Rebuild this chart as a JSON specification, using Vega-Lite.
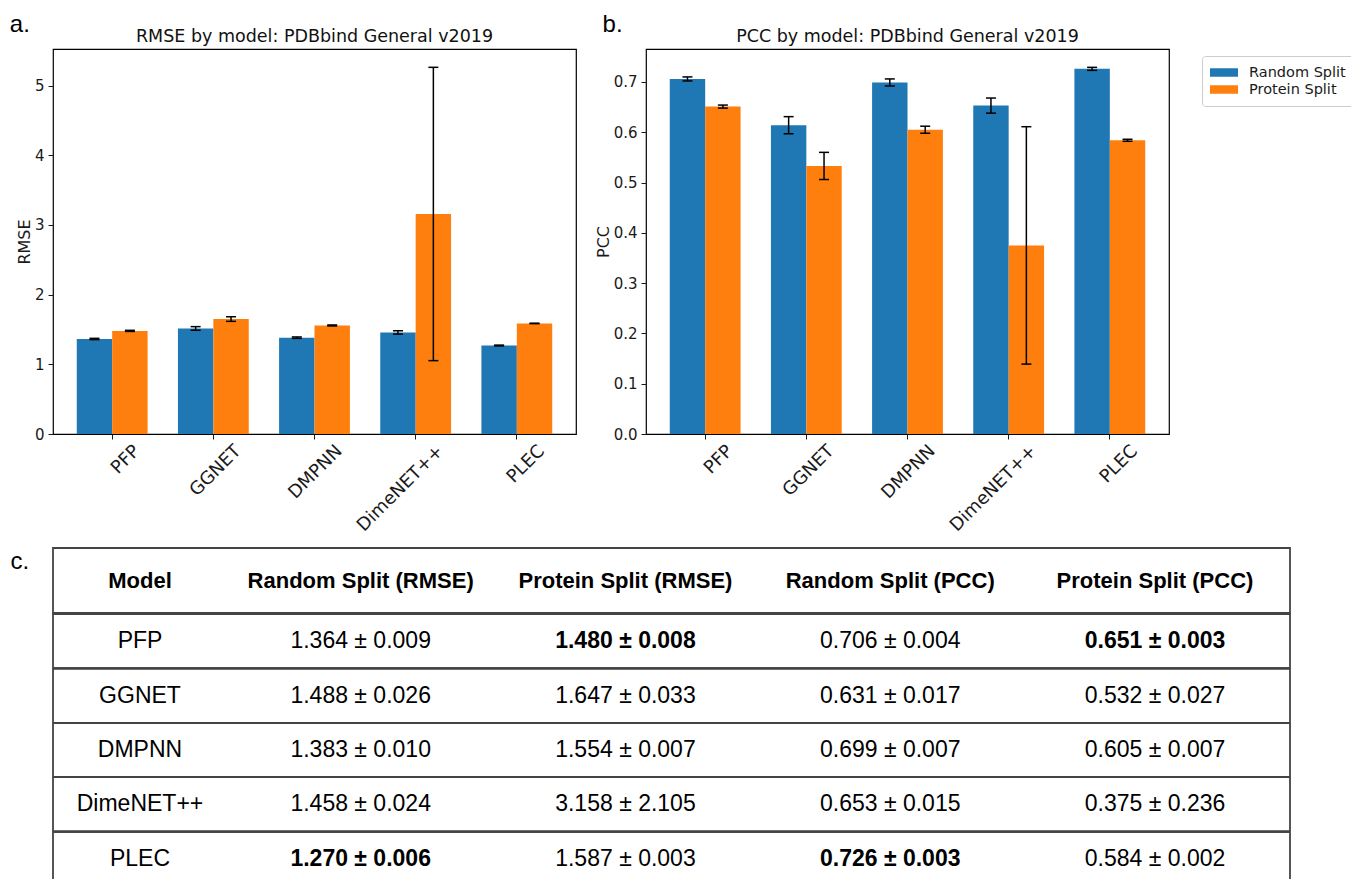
{
  "$schema": "https://vega.github.io/schema/vega-lite/v6.json",
  "background": "white",
  "padding": {"left": 9, "top": 12, "right": 0, "bottom": 0},
  "datasets": {
    "rmse": [
      {"model": "PFP", "split": "Random Split", "value": 1.364, "lo": 1.355, "hi": 1.373},
      {"model": "PFP", "split": "Protein Split", "value": 1.480, "lo": 1.472, "hi": 1.488},
      {"model": "GGNET", "split": "Random Split", "value": 1.515, "lo": 1.489, "hi": 1.541},
      {"model": "GGNET", "split": "Protein Split", "value": 1.650, "lo": 1.617, "hi": 1.683},
      {"model": "DMPNN", "split": "Random Split", "value": 1.383, "lo": 1.373, "hi": 1.393},
      {"model": "DMPNN", "split": "Protein Split", "value": 1.558, "lo": 1.551, "hi": 1.565},
      {"model": "DimeNET++", "split": "Random Split", "value": 1.458, "lo": 1.434, "hi": 1.482},
      {"model": "DimeNET++", "split": "Protein Split", "value": 3.158, "lo": 1.053, "hi": 5.263},
      {"model": "PLEC", "split": "Random Split", "value": 1.270, "lo": 1.264, "hi": 1.276},
      {"model": "PLEC", "split": "Protein Split", "value": 1.587, "lo": 1.584, "hi": 1.590}
    ],
    "pcc": [
      {"model": "PFP", "split": "Random Split", "value": 0.706, "lo": 0.702, "hi": 0.710},
      {"model": "PFP", "split": "Protein Split", "value": 0.651, "lo": 0.648, "hi": 0.654},
      {"model": "GGNET", "split": "Random Split", "value": 0.614, "lo": 0.597, "hi": 0.631},
      {"model": "GGNET", "split": "Protein Split", "value": 0.533, "lo": 0.506, "hi": 0.560},
      {"model": "DMPNN", "split": "Random Split", "value": 0.699, "lo": 0.692, "hi": 0.706},
      {"model": "DMPNN", "split": "Protein Split", "value": 0.605, "lo": 0.598, "hi": 0.612},
      {"model": "DimeNET++", "split": "Random Split", "value": 0.653, "lo": 0.638, "hi": 0.668},
      {"model": "DimeNET++", "split": "Protein Split", "value": 0.375, "lo": 0.139, "hi": 0.611},
      {"model": "PLEC", "split": "Random Split", "value": 0.726, "lo": 0.723, "hi": 0.729},
      {"model": "PLEC", "split": "Protein Split", "value": 0.584, "lo": 0.582, "hi": 0.586}
    ],
    "header": [
      {"col": "Model", "row": "h"},
      {"col": "Random Split (RMSE)", "row": "h"},
      {"col": "Protein Split (RMSE)", "row": "h"},
      {"col": "Random Split (PCC)", "row": "h"},
      {"col": "Protein Split (PCC)", "row": "h"}
    ],
    "cells": [
      {"model": "PFP", "col": "Model", "text": "PFP", "best": false},
      {"model": "PFP", "col": "Random Split (RMSE)", "text": "1.364 ± 0.009", "best": false},
      {"model": "PFP", "col": "Protein Split (RMSE)", "text": "1.480 ± 0.008", "best": true},
      {"model": "PFP", "col": "Random Split (PCC)", "text": "0.706 ± 0.004", "best": false},
      {"model": "PFP", "col": "Protein Split (PCC)", "text": "0.651 ± 0.003", "best": true},
      {"model": "GGNET", "col": "Model", "text": "GGNET", "best": false},
      {"model": "GGNET", "col": "Random Split (RMSE)", "text": "1.488 ± 0.026", "best": false},
      {"model": "GGNET", "col": "Protein Split (RMSE)", "text": "1.647 ± 0.033", "best": false},
      {"model": "GGNET", "col": "Random Split (PCC)", "text": "0.631 ± 0.017", "best": false},
      {"model": "GGNET", "col": "Protein Split (PCC)", "text": "0.532 ± 0.027", "best": false},
      {"model": "DMPNN", "col": "Model", "text": "DMPNN", "best": false},
      {"model": "DMPNN", "col": "Random Split (RMSE)", "text": "1.383 ± 0.010", "best": false},
      {"model": "DMPNN", "col": "Protein Split (RMSE)", "text": "1.554 ± 0.007", "best": false},
      {"model": "DMPNN", "col": "Random Split (PCC)", "text": "0.699 ± 0.007", "best": false},
      {"model": "DMPNN", "col": "Protein Split (PCC)", "text": "0.605 ± 0.007", "best": false},
      {"model": "DimeNET++", "col": "Model", "text": "DimeNET++", "best": false},
      {"model": "DimeNET++", "col": "Random Split (RMSE)", "text": "1.458  ± 0.024", "best": false},
      {"model": "DimeNET++", "col": "Protein Split (RMSE)", "text": "3.158 ± 2.105", "best": false},
      {"model": "DimeNET++", "col": "Random Split (PCC)", "text": "0.653 ± 0.015", "best": false},
      {"model": "DimeNET++", "col": "Protein Split (PCC)", "text": "0.375 ± 0.236", "best": false},
      {"model": "PLEC", "col": "Model", "text": "PLEC", "best": false},
      {"model": "PLEC", "col": "Random Split (RMSE)", "text": "1.270 ± 0.006", "best": true},
      {"model": "PLEC", "col": "Protein Split (RMSE)", "text": "1.587 ± 0.003", "best": false},
      {"model": "PLEC", "col": "Random Split (PCC)", "text": "0.726 ± 0.003", "best": true},
      {"model": "PLEC", "col": "Protein Split (PCC)", "text": "0.584 ± 0.002", "best": false}
    ]
  },
  "config": {
    "axis": {
      "labelFont": "DejaVu Sans", "titleFont": "DejaVu Sans",
      "labelColor": "#1a1a1a", "titleColor": "#1a1a1a",
      "tickColor": "#1a1a1a", "domain": false, "grid": false,
      "labelFontSize": 15, "titleFontSize": 16, "titleFontWeight": "normal",
      "tickSize": 5, "labelPadding": 4
    },
    "title": {"font": "DejaVu Sans", "fontWeight": "normal", "fontSize": 17.5, "color": "#111111"}
  },
  "resolve": {"scale": {"color": "independent"}, "legend": {"color": "independent"}},
  "spacing": 11,
  "vconcat": [
    {
      "spacing": 17,
      "resolve": {"scale": {"color": "independent"}, "legend": {"color": "independent"}},
      "hconcat": [
        {
          "title": {"text": "a.", "anchor": "start", "font": "Liberation Sans", "fontSize": 24, "fontWeight": "normal", "color": "black", "offset": -8, "dx": -6, "dy": 2},
          "vconcat": [
            {
              "width": 523, "height": 385,
              "title": {"text": "RMSE by model: PDBbind General v2019", "offset": 4},
              "data": {"name": "rmse"},
              "view": {"stroke": "black", "strokeWidth": 1.2},
              "encoding": {
                "x": {"field": "model", "type": "nominal", "sort": ["PFP", "GGNET", "DMPNN", "DimeNET++", "PLEC"],
                      "scale": {"paddingInner": 0.3, "paddingOuter": 0.235},
                      "axis": {"title": null, "labelAngle": -45, "labelAlign": "right", "labelBaseline": "middle", "labelOffset": 25, "labelPadding": 9, "labelFontSize": 18}},
                "xOffset": {"field": "split", "type": "nominal", "sort": ["Random Split", "Protein Split"], "scale": {"paddingInner": 0, "paddingOuter": 0}}
              },
              "layer": [
                {
                  "mark": {"type": "bar"},
                  "encoding": {
                    "y": {"field": "value", "type": "quantitative", "scale": {"domain": [0, 5.526], "nice": false},
                          "axis": {"title": "RMSE", "values": [0, 1, 2, 3, 4, 5], "format": "d", "titlePadding": 2}},
                    "color": {"field": "split", "type": "nominal", "scale": {"domain": ["Random Split", "Protein Split"], "range": ["#1f77b4", "#ff7f0e"]}, "legend": null}
                  }
                },
                {"mark": {"type": "rule", "color": "black", "strokeWidth": 1.5}, "encoding": {"y": {"field": "lo", "type": "quantitative"}, "y2": {"field": "hi"}}},
                {"mark": {"type": "tick", "color": "black", "thickness": 1.5, "size": 10, "opacity": 1}, "encoding": {"y": {"field": "lo", "type": "quantitative"}}},
                {"mark": {"type": "tick", "color": "black", "thickness": 1.5, "size": 10, "opacity": 1}, "encoding": {"y": {"field": "hi", "type": "quantitative"}}}
              ]
            }
          ]
        },
        {
          "title": {"text": "b.", "anchor": "start", "font": "Liberation Sans", "fontSize": 24, "fontWeight": "normal", "color": "black", "offset": -8, "dx": 8, "dy": 2},
          "vconcat": [
            {
              "width": 523, "height": 385,
              "title": {"text": "PCC by model: PDBbind General v2019", "offset": 4},
              "data": {"name": "pcc"},
              "view": {"stroke": "black", "strokeWidth": 1.2},
              "encoding": {
                "x": {"field": "model", "type": "nominal", "sort": ["PFP", "GGNET", "DMPNN", "DimeNET++", "PLEC"],
                      "scale": {"paddingInner": 0.3, "paddingOuter": 0.235},
                      "axis": {"title": null, "labelAngle": -45, "labelAlign": "right", "labelBaseline": "middle", "labelOffset": 25, "labelPadding": 9, "labelFontSize": 18}},
                "xOffset": {"field": "split", "type": "nominal", "sort": ["Random Split", "Protein Split"], "scale": {"paddingInner": 0, "paddingOuter": 0}}
              },
              "layer": [
                {
                  "mark": {"type": "bar"},
                  "encoding": {
                    "y": {"field": "value", "type": "quantitative", "scale": {"domain": [0, 0.7655], "nice": false},
                          "axis": {"title": "PCC", "values": [0, 0.1, 0.2, 0.3, 0.4, 0.5, 0.6, 0.7], "format": ".1f", "titlePadding": 2}},
                    "color": {"field": "split", "type": "nominal", "scale": {"domain": ["Random Split", "Protein Split"], "range": ["#1f77b4", "#ff7f0e"]},
                              "legend": {"orient": "none", "legendX": 556, "legendY": 7, "title": null,
                                         "symbolType": "M-1,-0.3L1,-0.3L1,0.3L-1,0.3Z", "symbolSize": 841, "symbolStrokeWidth": 0, "symbolOpacity": 1,
                                         "labelFont": "DejaVu Sans", "labelFontSize": 14.5, "labelColor": "#1a1a1a", "labelOffset": 11,
                                         "padding": 8, "symbolOffset": -1, "rowPadding": 0, "clipHeight": 17,
                                         "strokeColor": "#cccccc", "cornerRadius": 3, "fillColor": "white"}}
                  }
                },
                {"mark": {"type": "rule", "color": "black", "strokeWidth": 1.5}, "encoding": {"y": {"field": "lo", "type": "quantitative"}, "y2": {"field": "hi"}}},
                {"mark": {"type": "tick", "color": "black", "thickness": 1.5, "size": 10, "opacity": 1}, "encoding": {"y": {"field": "lo", "type": "quantitative"}}},
                {"mark": {"type": "tick", "color": "black", "thickness": 1.5, "size": 10, "opacity": 1}, "encoding": {"y": {"field": "hi", "type": "quantitative"}}}
              ]
            }
          ]
        }
      ]
    },
    {
      "spacing": -2,
      "vconcat": [
        {
          "width": 1237, "height": 65,
          "data": {"name": "header"},
          "view": {"stroke": "#444444", "strokeWidth": 1.8},
          "mark": {"type": "text", "font": "Liberation Sans", "fontSize": 22, "fontWeight": "bold", "color": "black"},
          "encoding": {
            "x": {"field": "col", "type": "nominal",
                  "scale": {"type": "point", "padding": 0, "range": [87, 1102],
                            "domain": ["Model", "_a", "_b", "_c", "_d", "Random Split (RMSE)", "_e", "_f", "_g", "_h", "_i", "Protein Split (RMSE)", "_j", "_k", "_l", "_m", "_n", "Random Split (PCC)", "_o", "_p", "_q", "_r", "_s", "Protein Split (PCC)"]},
                  "axis": null},
            "y": {"field": "row", "type": "nominal",
                  "axis": {"title": "c.", "labels": false, "ticks": false, "domain": false, "titleAngle": 0, "titleAlign": "left", "titleBaseline": "alphabetic",
                           "titleX": -43, "titleY": 20, "titleFont": "Liberation Sans", "titleFontSize": 24, "titleFontWeight": "normal", "titleColor": "black"}},
            "text": {"field": "col"}
          }
        },
        {
          "width": 1237, "height": 272,
          "data": {"name": "cells"},
          "view": {"stroke": "#444444", "strokeWidth": 1.8},
          "encoding": {
            "x": {"field": "col", "type": "nominal",
                  "scale": {"type": "point", "padding": 0, "range": [87, 1102],
                            "domain": ["Model", "_a", "_b", "_c", "_d", "Random Split (RMSE)", "_e", "_f", "_g", "_h", "_i", "Protein Split (RMSE)", "_j", "_k", "_l", "_m", "_n", "Random Split (PCC)", "_o", "_p", "_q", "_r", "_s", "Protein Split (PCC)"]},
                  "axis": null}
          },
          "layer": [
            {
              "transform": [{"filter": "datum.model != 'PFP'"}],
              "mark": {"type": "rule", "color": "#444444", "strokeWidth": 1.8},
              "encoding": {"x": null, "y": {"field": "model", "type": "nominal", "bandPosition": 0, "sort": ["PFP", "GGNET", "DMPNN", "DimeNET++", "PLEC"], "scale": {"type": "band", "paddingInner": 0, "paddingOuter": 0}, "axis": null}}
            },
            {
              "transform": [{"filter": "!datum.best"}],
              "mark": {"type": "text", "font": "Liberation Sans", "fontSize": 23, "color": "black"},
              "encoding": {"y": {"field": "model", "type": "nominal", "sort": ["PFP", "GGNET", "DMPNN", "DimeNET++", "PLEC"], "scale": {"type": "band", "paddingInner": 0, "paddingOuter": 0}, "axis": null}, "text": {"field": "text"}}
            },
            {
              "transform": [{"filter": "datum.best"}],
              "mark": {"type": "text", "font": "Liberation Sans", "fontSize": 23, "fontWeight": "bold", "color": "black"},
              "encoding": {"y": {"field": "model", "type": "nominal", "sort": ["PFP", "GGNET", "DMPNN", "DimeNET++", "PLEC"], "scale": {"type": "band", "paddingInner": 0, "paddingOuter": 0}, "axis": null}, "text": {"field": "text"}}
            }
          ]
        }
      ]
    }
  ]
}
